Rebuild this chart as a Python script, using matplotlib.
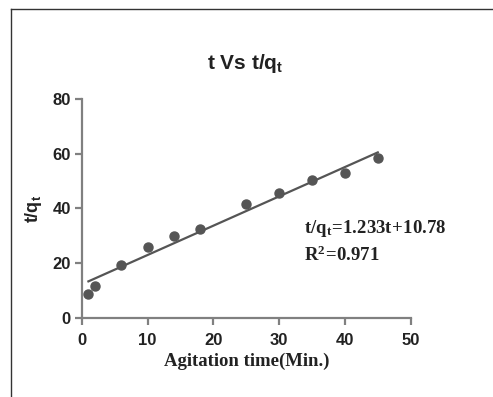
import numpy as np
import matplotlib
matplotlib.use('Agg')
import matplotlib.pyplot as plt
from matplotlib.lines import Line2D

# data
time_min = [1, 2, 6, 10, 14, 18, 25, 30, 35, 40, 45]
t_over_qt = [8.7, 11.8, 19.4, 26.1, 30.1, 32.6, 41.7, 45.6, 50.4, 53.0, 58.4]
fit_slope = 1.07
fit_intercept = 12.3
x_ticks = [0, 10, 20, 30, 40, 50]
y_ticks = [0, 20, 40, 60, 80]

gray = '#808080'
dark = '#555555'
ink = '#222222'

plt.rcParams['mathtext.fontset'] = 'custom'
plt.rcParams['mathtext.bf'] = 'Liberation Sans:bold'
plt.rcParams['mathtext.rm'] = 'Liberation Serif:bold'
plt.rcParams['mathtext.it'] = 'Liberation Serif:bold'

fig = plt.figure(figsize=(4.93, 3.97), dpi=100)
ax = fig.add_axes([0.166, 0.199, 0.667, 0.552])

ax.plot(time_min, t_over_qt, 'o', color=dark, markersize=6.5, zorder=3)
xf = np.array([time_min[0], time_min[-1]])
ax.plot(xf, fit_slope * xf + fit_intercept, color=dark, linewidth=1.6)

ax.set_xlim(0, 50)
ax.set_ylim(0, 80)
ax.set_xticks(x_ticks)
ax.set_yticks(y_ticks)
for s in ['top', 'right']:
    ax.spines[s].set_visible(False)
for s in ['left', 'bottom']:
    ax.spines[s].set_color(gray)
    ax.spines[s].set_linewidth(1.6)
ax.tick_params(direction='out', length=5, width=1.6, color=gray, pad=3)
ax.tick_params(axis='x', pad=6)
for lab in ax.get_xticklabels() + ax.get_yticklabels():
    lab.set_family('Liberation Sans')
    lab.set_fontweight('bold')
    lab.set_fontsize(12)
    lab.set_color(ink)

ax.set_xlabel('Agitation time(Min.)', family='Liberation Serif', fontweight='bold',
              fontsize=13.5, color=ink, labelpad=3)
ax.set_ylabel(r'$\mathbf{t/q_t}$', fontsize=13, color=ink, labelpad=6)

fig.text(0.497, 0.84, r'$\mathbf{t\ Vs\ t/q_t}$', ha='center', va='center',
         fontsize=15, color=ink)

ax.text(0.675, 0.39, r'$\mathrm{t/q_t\!=\!1.233t\!+\!10.78}$', transform=ax.transAxes,
        fontsize=13.5, color=ink)
ax.text(0.675, 0.26, r'$\mathrm{R^2\!=\!0.971}$', transform=ax.transAxes,
        fontsize=13.5, color=ink)

# page frame
fig.add_artist(Line2D([0.022, 1.0], [0.977, 0.977], transform=fig.transFigure,
                      color='#333333', linewidth=1))
fig.add_artist(Line2D([0.022, 0.022], [0.0, 0.977], transform=fig.transFigure,
                      color='#333333', linewidth=1))

fig.savefig('out.png', dpi=100)
